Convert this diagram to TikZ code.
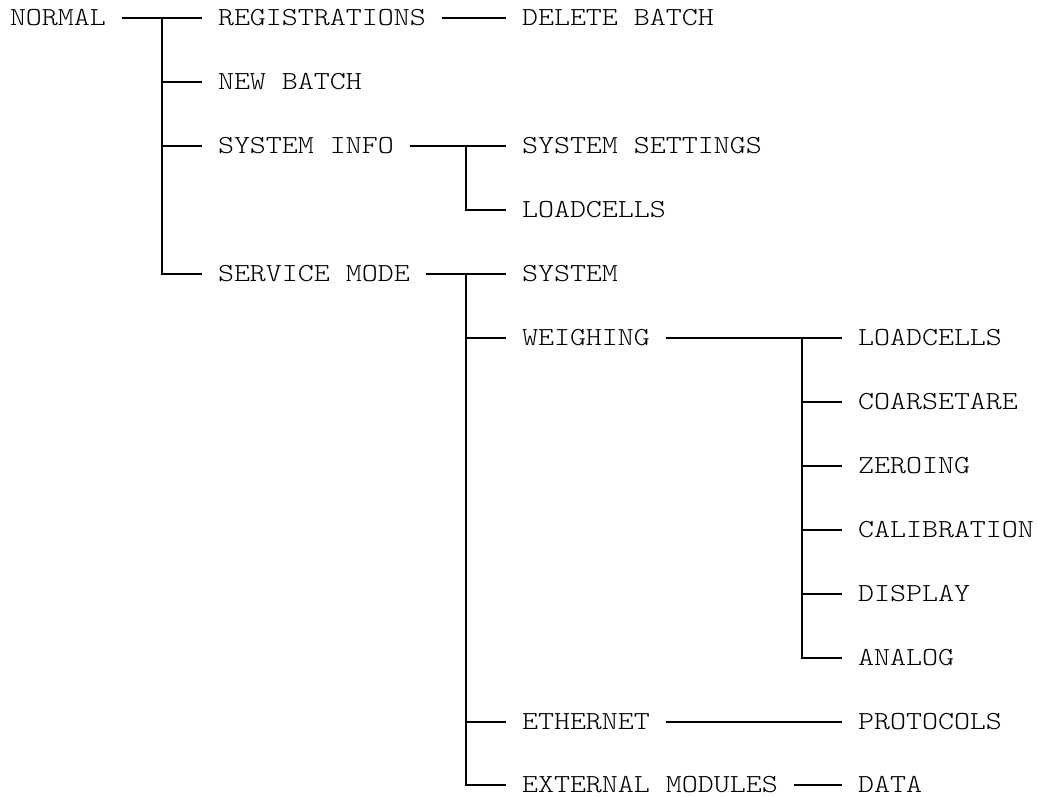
\documentclass[tikz,border=0pt]{standalone}
\usepackage{fontspec}
\newfontfamily\courfont[FakeStretch=1.172]{lmmonolt10-regular.otf}
\begin{document}
\begin{tikzpicture}[x=1pt,y=-1pt,
  lbl/.style={anchor=west,inner sep=0pt,outer sep=0pt,text height=15.6pt,text depth=0pt,
    font=\courfont\fontsize{26pt}{32pt}\selectfont,text=black},
  conn/.style={draw=black,line width=1.7pt,line cap=butt}]
\useasboundingbox (0,0) rectangle (1038,796);
% grid: x = 10 + 16*col, y = 18 + 32*row
\node[lbl] (normal) at (10,18) {NORMAL};
\node[lbl] (reg)    at (218,18) {REGISTRATIONS};
\node[lbl] (del)    at (522,18) {DELETE BATCH};
\node[lbl] (newb)   at (218,82) {NEW BATCH};
\node[lbl] (sinfo)  at (218,146) {SYSTEM INFO};
\node[lbl] (sset)   at (522,146) {SYSTEM SETTINGS};
\node[lbl] (lc1)    at (522,210) {LOADCELLS};
\node[lbl] (svc)    at (218,274) {SERVICE MODE};
\node[lbl] (sys)    at (522,274) {SYSTEM};
\node[lbl] (weigh)  at (522,338) {WEIGHING};
\node[lbl] (lc2)    at (858,338) {LOADCELLS};
\node[lbl] (coarse) at (858,402) {COARSETARE};
\node[lbl] (zero)   at (858,466) {ZEROING};
\node[lbl] (calib)  at (858,530) {CALIBRATION};
\node[lbl] (disp)   at (858,594) {DISPLAY};
\node[lbl] (analog) at (858,658) {ANALOG};
\node[lbl] (eth)    at (522,722) {ETHERNET};
\node[lbl] (proto)  at (858,722) {PROTOCOLS};
\node[lbl] (ext)    at (522,785) {EXTERNAL MODULES};
\node[lbl] (data)   at (858,785) {DATA};
% junction coordinates
\coordinate (j1) at (162,18);
\coordinate (j2) at (466,146);
\coordinate (j3) at (466,274);
\coordinate (j4) at (802,338);
% level 1
\draw[conn] (normal.east) ++(16,0) -- ([xshift=-16pt]reg.west);
\draw[conn] (j1) |- ([xshift=-16pt]svc.west);
\draw[conn] (j1 |- newb.west) -- ([xshift=-16pt]newb.west);
\draw[conn] (j1 |- sinfo.west) -- ([xshift=-16pt]sinfo.west);
\draw[conn] (reg.east) ++(16,0) -- ([xshift=-16pt]del.west);
% system info
\draw[conn] (sinfo.east) ++(16,0) -- ([xshift=-16pt]sset.west);
\draw[conn] (j2) |- ([xshift=-16pt]lc1.west);
% service mode
\draw[conn] (svc.east) ++(16,0) -- ([xshift=-16pt]sys.west);
\draw[conn] (j3) |- ([xshift=-16pt]ext.west);
\draw[conn] (j3 |- weigh.west) -- ([xshift=-16pt]weigh.west);
\draw[conn] (j3 |- eth.west) -- ([xshift=-16pt]eth.west);
% weighing
\draw[conn] (weigh.east) ++(16,0) -- ([xshift=-16pt]lc2.west);
\draw[conn] (j4) |- ([xshift=-16pt]analog.west);
\draw[conn] (j4 |- coarse.west) -- ([xshift=-16pt]coarse.west);
\draw[conn] (j4 |- zero.west) -- ([xshift=-16pt]zero.west);
\draw[conn] (j4 |- calib.west) -- ([xshift=-16pt]calib.west);
\draw[conn] (j4 |- disp.west) -- ([xshift=-16pt]disp.west);
% ethernet, external
\draw[conn] (eth.east) ++(16,0) -- ([xshift=-16pt]proto.west);
\draw[conn] (ext.east) ++(16,0) -- ([xshift=-16pt]data.west);
\end{tikzpicture}
\end{document}
